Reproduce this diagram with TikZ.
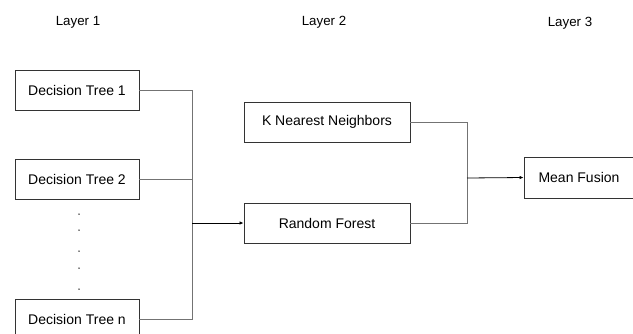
\documentclass[tikz,border=0pt]{standalone}
\usepackage{fontspec}
\setmainfont{Liberation Sans}
\usetikzlibrary{arrows.meta}
\begin{document}
\begin{tikzpicture}[x=1pt,y=-1pt,
  box/.style={draw=black!80, line width=0.9pt, minimum height=40pt, inner sep=0pt, font=\fontsize{14}{16}\selectfont},
  layerlbl/.style={font=\fontsize{13.3}{15}\selectfont},
  conn/.style={draw=black!55, line width=0.8pt},
  arr/.style={draw=black, line width=0.8pt, -{Latex[length=4pt,width=3.5pt]}}]
\useasboundingbox (0,0) rectangle (633,333);
\clip (0,0) rectangle (633,333);
\node[layerlbl] (l1) at (78,22) {Layer 1};
\node[layerlbl] (l2) at (324,22) {Layer 2};
\node[layerlbl] (l3) at (570,23) {Layer 3};
\node[box, minimum width=124pt] (dt1) at (77,90) {Decision Tree 1};
\node[box, minimum width=124pt] (dt2) at (77,179) {Decision Tree 2};
\node[box, minimum width=124pt] (dtn) at (77,319) {Decision Tree n};
\node[box, minimum width=166pt] (knn) at (327,122) {K Nearest Neighbors};
\node[box, minimum width=166pt] (rf) at (327,223) {Random Forest};
\node[box, minimum width=110pt, minimum height=41pt] (mf) at (579,177.5) {Mean Fusion};
\foreach \yy in {214,230,251,268,289} \fill (79,\yy) circle (0.75pt);
\coordinate (busA) at (192,223);
\coordinate (busB) at (467,178);
\draw[conn] (dt1.east) -| (busA);
\draw[conn] (dtn.east) -| (busA);
\draw[conn] (dt2.east) -- (dt2.east -| busA);
\draw[arr] (busA) -- (rf.west);
\draw[conn] (knn.east) -| (busB);
\draw[conn] (rf.east) -| (busB);
\draw[arr] (busB) -- (mf.west);
\end{tikzpicture}
\end{document}
